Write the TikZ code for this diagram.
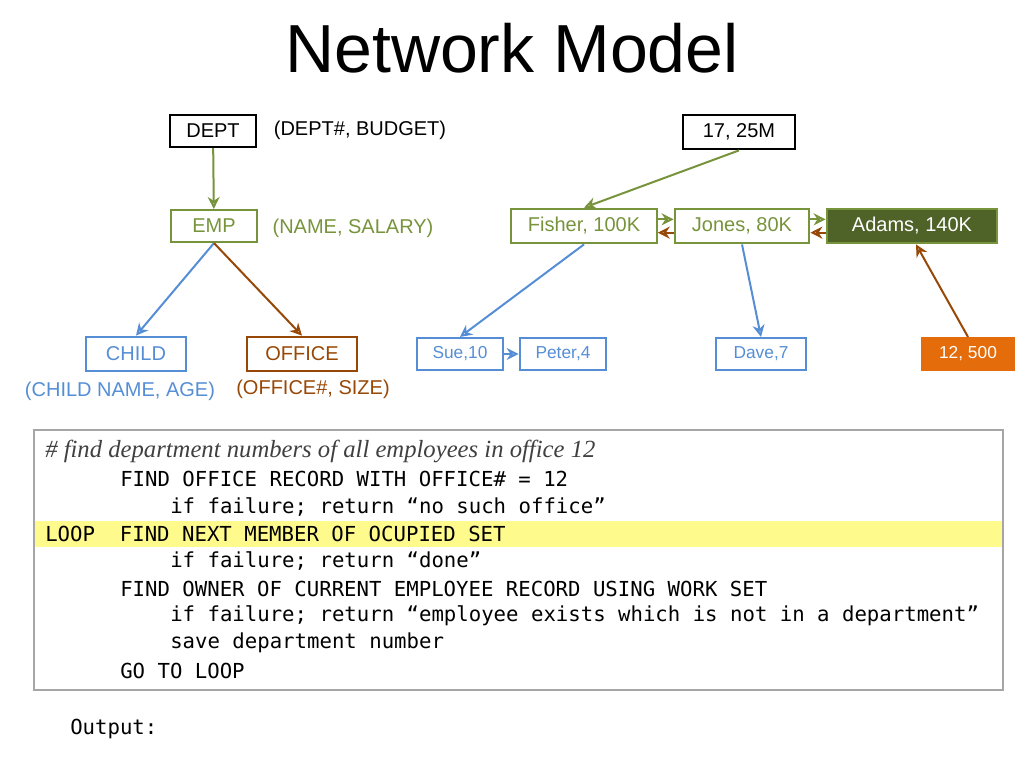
\documentclass[tikz,border=0pt]{standalone}
\usepackage{fontspec}
\setmainfont{Liberation Sans}
\newfontfamily\codefont{DejaVu Sans Mono}
\newfontfamily\notefont{Liberation Serif}
\usetikzlibrary{positioning, arrows.meta}
\definecolor{netgreen}{RGB}{119,147,60}
\definecolor{netdark}{RGB}{79,98,40}
\definecolor{netblue}{RGB}{85,142,213}
\definecolor{netbrown}{RGB}{152,72,6}
\definecolor{netorange}{RGB}{228,108,10}
\definecolor{codeyellow}{RGB}{255,250,140}
\begin{document}
\begin{tikzpicture}[x=0.75pt, y=-0.75pt, font=\fontsize{15}{18}\selectfont,
rec/.style={rectangle, draw=#1, text=#1, line width=1.6pt, inner sep=0pt, minimum height=24pt},
arrow/.style={-{Stealth[length=9pt,width=9pt,open]}, line width=1.5pt},
code/.style={anchor=west, inner sep=0pt, font=\codefont\fontsize{15.5}{18}\selectfont}
]
\useasboundingbox (0,0) rectangle (1024,768);

% Title
\node[font=\fontsize{51}{56}\selectfont] (title) at (512,48) {Network Model};

% Schema side
\node[rec=black, minimum width=65pt] (dept) at (213,131) {DEPT};
\node (deptattr) at (360,130) {(DEPT\#, BUDGET)};
\node[rec=netgreen, minimum width=64pt] (emp) at (214,226) {EMP};
\node[text=netgreen] (empattr) at (353,228) {(NAME, SALARY)};
\node[rec=netblue, minimum width=75pt, minimum height=26pt] (child) at (136,354) {CHILD};
\node[text=netblue] (childattr) at (120,391) {(CHILD NAME, AGE)};
\node[rec=netbrown, minimum width=83pt, minimum height=26pt] (office) at (302,354) {OFFICE};
\node[text=netbrown] (officeattr) at (313,389) {(OFFICE\#, SIZE)};

% Instance side
\node[rec=black, minimum width=84pt, minimum height=26pt] (d17) at (739,132) {17, 25M};
\node[rec=netgreen, minimum width=109pt, minimum height=26pt] (fisher) at (584,226) {Fisher, 100K};
\node[rec=netgreen, minimum width=101pt, minimum height=26pt] (jones) at (742,226) {Jones, 80K};
\node[rec=netgreen, fill=netdark, text=white, minimum width=128pt, minimum height=26pt] (adams) at (912,226) {Adams, 140K};
\node[rec=netblue, minimum width=64pt, font=\fontsize{13}{16}\selectfont] (sue) at (460,354) {Sue,10};
\node[rec=netblue, minimum width=65pt, font=\fontsize{13}{16}\selectfont] (peter) at (563,354) {Peter,4};
\node[rec=netblue, minimum width=67pt, font=\fontsize{13}{16}\selectfont] (dave) at (761,354) {Dave,7};
\node[rec=netorange, fill=netorange, text=white, minimum width=69pt, font=\fontsize{13}{16}\selectfont] (office12) at (968,354) {12, 500};

% Arrows
\draw[arrow, netgreen] (dept) -- (emp);
\draw[arrow, netblue] (emp.south) -- (child.north);
\draw[arrow, netbrown] (emp.south) -- (office.north);
\draw[arrow, netgreen] (d17.south) -- (fisher.north);
\draw[arrow, netgreen] ([yshift=5pt]fisher.east) -- ([yshift=5pt]jones.west);
\draw[arrow, netgreen] ([yshift=5pt]jones.east) -- ([yshift=5pt]adams.west);
\draw[arrow, netbrown] ([yshift=-5pt]adams.west) -- ([yshift=-5pt]jones.east);
\draw[arrow, netbrown] ([yshift=-5pt]jones.west) -- ([yshift=-5pt]fisher.east);
\draw[arrow, netblue] (fisher.south) -- (sue.north);
\draw[arrow, netblue] (sue) -- (peter);
\draw[arrow, netblue] (jones.south) -- (dave.north);
\draw[arrow, netbrown] (office12.north) -- ([xshift=3pt]adams.south);

% Code box
\fill[codeyellow] (34,521) rectangle (1003,547);
\draw[black!35, line width=0.8pt] (34,430) rectangle (1003,690);
\node[anchor=west, inner sep=0pt, font=\notefont\itshape\fontsize{18.5}{22}\selectfont, text=black!75] (note) at (45,451) {\# find department numbers of all employees in office 12};
\node[code] (c1) at (120,479) {FIND OFFICE RECORD WITH OFFICE\# = 12};
\node[code] (c2) at (170,507) {if failure; return “no such office”};
\node[code] (c3) at (45,534) {LOOP\ \ FIND NEXT MEMBER OF OCUPIED SET};
\node[code] (c4) at (170,561) {if failure; return “done”};
\node[code] (c5) at (120,589) {FIND OWNER OF CURRENT EMPLOYEE RECORD USING WORK SET};
\node[code] (c6) at (170,616) {if failure; return “employee exists which is not in a department”};
\node[code] (c7) at (170,643) {save department number};
\node[code] (c8) at (120,671) {GO TO LOOP};
\node[code] (output) at (70,729) {Output:};
\end{tikzpicture}
\end{document}
